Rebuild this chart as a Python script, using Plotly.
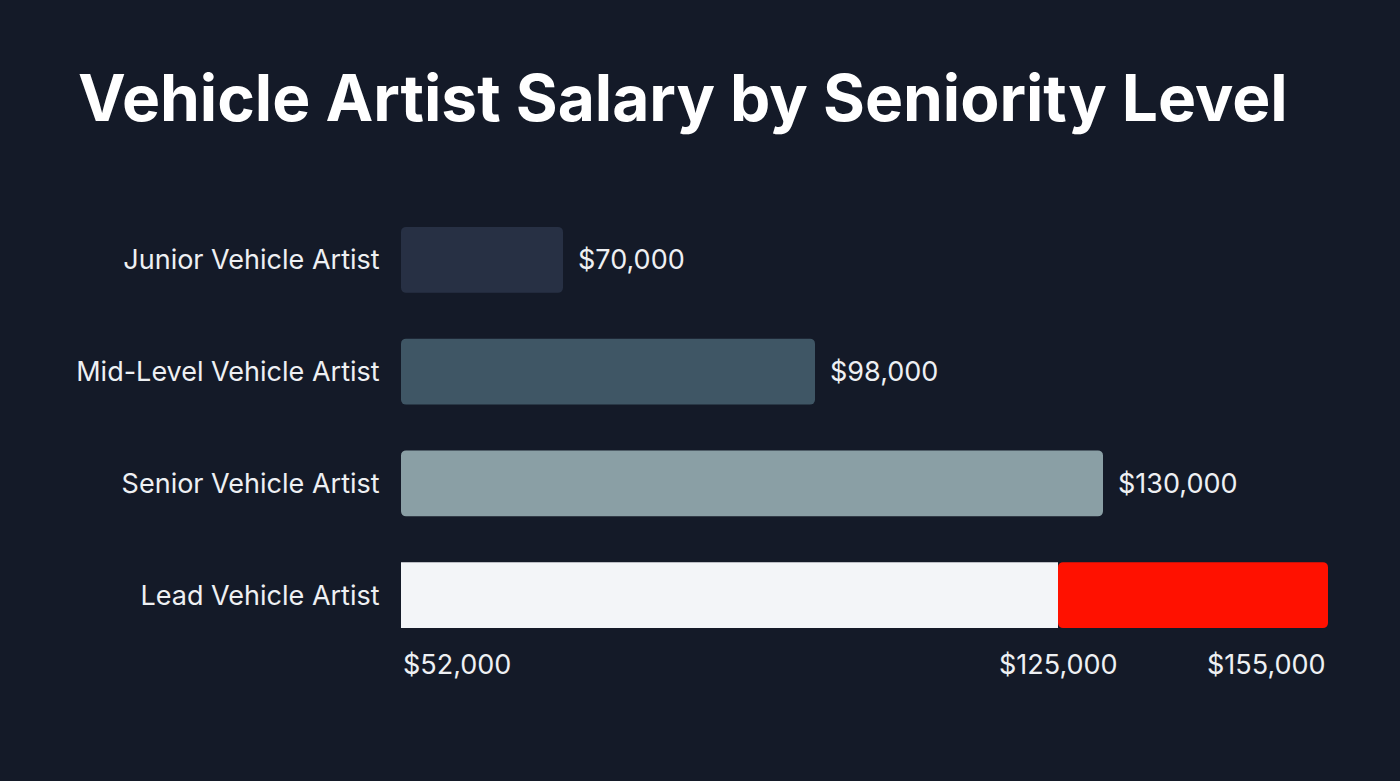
import plotly.graph_objects as go

# ---- data ----
categories = ["Junior Vehicle Artist", "Mid-Level Vehicle Artist", "Senior Vehicle Artist", "Lead Vehicle Artist"]
salaries = [70000, 98000, 130000]          # Junior, Mid, Senior
lead_low = 52000
lead_mid = 125000
lead_high = 155000
range_labels = ["$52,000", "$125,000", "$155,000"]
title_text = "Vehicle Artist Salary by Seniority Level"

BG = "#141a28"
bar_colors = ["#273044", "#3f5665", "#8a9fa5"]
WHITE = "#f3f5f8"
RED = "#ff1100"
TXT = "#eef0f3"
LABEL_FONT = dict(family="Inter", size=27, color=TXT)

fig = go.Figure()

# Junior / Mid / Senior bars, drawn from the axis start
fig.add_trace(go.Bar(
    y=categories[:3],
    x=[s - lead_low for s in salaries],
    base=[lead_low] * 3,
    orientation="h",
    marker=dict(color=bar_colors, cornerradius=5, line=dict(width=0)),
    hoverinfo="skip",
))
# Lead: white part
fig.add_trace(go.Bar(
    y=[categories[3]],
    x=[lead_mid - lead_low],
    base=[lead_low],
    orientation="h",
    marker=dict(color=WHITE, cornerradius=0, line=dict(width=0)),
    hoverinfo="skip",
))
# Lead: red part
fig.add_trace(go.Bar(
    y=[categories[3]],
    x=[lead_high - lead_mid],
    base=[lead_mid],
    orientation="h",
    marker=dict(color=RED, cornerradius=5, line=dict(width=0)),
    hoverinfo="skip",
))

annotations = []
for cat, s in zip(categories[:3], salaries):
    annotations.append(dict(
        x=s, y=cat, xref="x", yref="y", text=f"${s:,.0f}",
        xanchor="left", yanchor="middle", xshift=13, showarrow=False,
        font=LABEL_FONT,
    ))
for val, lab, anc in zip([lead_low, lead_mid, lead_high], range_labels, ["left", "center", "right"]):
    annotations.append(dict(
        x=val, y=categories[3], xref="x", yref="y", text=lab,
        xanchor=anc, yanchor="middle", yshift=-69, showarrow=False,
        font=LABEL_FONT,
    ))

fig.update_layout(
    width=1400, height=781,
    paper_bgcolor=BG, plot_bgcolor=BG,
    margin=dict(l=401, r=72, t=204, b=130),
    barmode="overlay",
    bargap=0.41,
    showlegend=False,
    title=dict(
        text=title_text, x=78 / 1400, xanchor="left", xref="container",
        y=1 - 99 / 781, yanchor="middle", yref="container",
        font=dict(family="Inter", size=64, color="#ffffff", weight=700),
    ),
    xaxis=dict(range=[lead_low, lead_high], showgrid=False, zeroline=False,
               showticklabels=False, showline=False, fixedrange=True),
    yaxis=dict(autorange="reversed", showgrid=False, zeroline=False, showline=False,
               ticks="outside", ticklen=15, tickcolor="rgba(0,0,0,0)",
               tickfont=LABEL_FONT),
    annotations=annotations,
)
fig.write_html("out.html")
